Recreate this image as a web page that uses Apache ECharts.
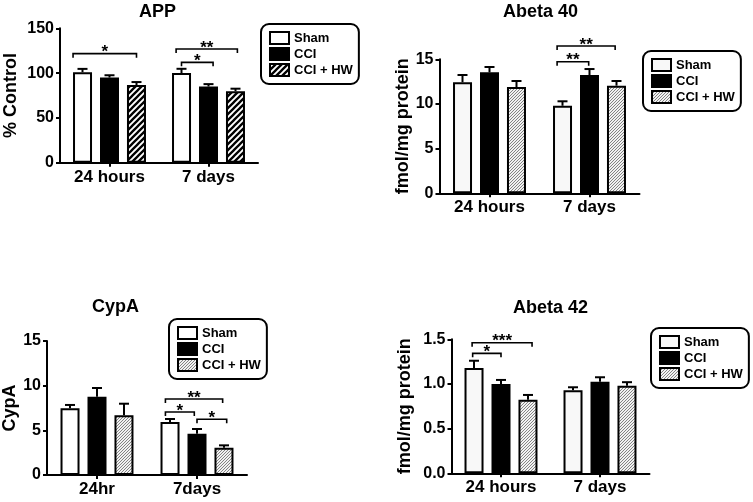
<!DOCTYPE html>
<html>
<head>
<meta charset="utf-8">
<script src="https://cdn.jsdelivr.net/npm/echarts@6/dist/echarts.min.js"></script>
<style>html,body{margin:0;padding:0;background:#fff;}#c{width:753px;height:502px;}</style>
</head>
<body>
<div id="c"></div>
<script>
// ---------- DATA ----------
const groups = ['Sham', 'CCI', 'CCI + HW'];

const appCats = ['24 hours', '7 days'];
const appSham = [101, 100];
const appCCI = [95, 85];
const appHW = [86.7, 79.7];
const appShamSem = [3.7, 4.8];
const appCCISem = [2.6, 2.7];
const appHWSem = [3.3, 2.9];
const appTicks = [0, 50, 100, 150];

const ab40Cats = ['24 hours', '7 days'];
const ab40Sham = [12.43, 9.8];
const ab40CCI = [13.54, 13.24];
const ab40HW = [11.9, 12.05];
const ab40ShamSem = [0.81, 0.5];
const ab40CCISem = [0.6, 0.67];
const ab40HWSem = [0.67, 0.52];
const ab40Ticks = [0, 5, 10, 15];

const cypCats = ['24hr', '7days'];
const cypSham = [7.47, 5.93];
const cypCCI = [8.77, 4.63];
const cypHW = [6.68, 3.06];
const cypShamSem = [0.37, 0.34];
const cypCCISem = [0.97, 0.52];
const cypHWSem = [1.3, 0.26];
const cypTicks = [0, 5, 10, 15];

const ab42Cats = ['24 hours', '7 days'];
const ab42Sham = [1.18, 0.93];
const ab42CCI = [1.0, 1.026];
const ab42HW = [0.824, 0.98];
const ab42ShamSem = [0.08, 0.033];
const ab42CCISem = [0.045, 0.049];
const ab42HWSem = [0.053, 0.04];
const ab42Ticks = ['0.0', '0.5', '1.0', '1.5'];

// significance brackets: [category, fromSlot, toSlot, height (data units), label]
const appSig = [[0, -0.35, 2, 121.7, '*'], [1, -0.2, 2.07, 126.9, '**'], [1, 0, 1.17, 112, '*']];
const ab40Sig = [[1, -0.2, 1.95, 16.49, '**'], [1, -0.2, 0.97, 14.73, '**']];
const cypSig = [[1, -0.17, 1.95, 8.51, '**'], [1, -0.17, 0.9, 7.05, '*'], [1, 1.0, 2.1, 6.24, '*']];
const ab42Sig = [[0, -0.07, 2.15, 1.462, '***'], [0, -0.05, 1.0, 1.343, '*']];

// ---------- STYLE ----------
const FONT = '"Liberation Sans", Arial, Helvetica, sans-serif';
const BAR_W = 19, STEP = 27;

function hatch(size, lw, color, bg) {
  const c = document.createElement('canvas');
  c.width = c.height = size;
  const g = c.getContext('2d');
  g.fillStyle = bg; g.fillRect(0, 0, size, size);
  g.strokeStyle = color; g.lineWidth = lw; g.beginPath();
  g.moveTo(0, size); g.lineTo(size, 0);
  g.moveTo(-size / 2, size / 2); g.lineTo(size / 2, -size / 2);
  g.moveTo(size / 2, size * 1.5); g.lineTo(size * 1.5, size / 2);
  g.stroke();
  return c;
}
const boldHatch = { image: hatch(6, 2.3, '#000', '#fff'), repeat: 'repeat' };
const fineHatch = { image: hatch(3, 0.9, '#777', '#f2f2f2'), repeat: 'repeat' };

const panels = [
  { title: 'APP', tl: 139, tt: 3, grid: { left: 60, top: 28.3, width: 198, height: 134.4 },
    cats: appCats, means: [appSham, appCCI, appHW], sems: [appShamSem, appCCISem, appHWSem],
    ticks: appTicks, yName: '% Control', nameGap: 40, sig: appSig,
    shamColor: '#fff', hw: boldHatch, legend: { left: 261, top: 24 } },
  { title: 'Abeta 40', tl: 503, tt: 3, grid: { left: 439.5, top: 59.3, width: 200, height: 134 },
    cats: ab40Cats, means: [ab40Sham, ab40CCI, ab40HW], sems: [ab40ShamSem, ab40CCISem, ab40HWSem],
    ticks: ab40Ticks, yName: 'fmol/mg protein', nameGap: 24, sig: ab40Sig,
    shamColor: '#f8f8f8', hw: fineHatch, legend: { left: 643, top: 51 } },
  { title: 'CypA', tl: 92, tt: 298, grid: { left: 47, top: 341, width: 200, height: 134 },
    cats: cypCats, means: [cypSham, cypCCI, cypHW], sems: [cypShamSem, cypCCISem, cypHWSem],
    ticks: cypTicks, yName: 'CypA', nameGap: 28, sig: cypSig,
    shamColor: '#fff', hw: fineHatch, legend: { left: 169, top: 319 } },
  { title: 'Abeta 42', tl: 513, tt: 299, grid: { left: 451.5, top: 339.3, width: 198, height: 134 },
    cats: ab42Cats, means: [ab42Sham, ab42CCI, ab42HW], sems: [ab42ShamSem, ab42CCISem, ab42HWSem],
    ticks: ab42Ticks, yName: 'fmol/mg protein', nameGap: 37, sig: ab42Sig,
    shamColor: '#f8f8f8', hw: fineHatch, legend: { left: 651, top: 328 } }
];

const ZW = '\u200b';
const option = { animation: false, backgroundColor: '#fff',
  title: [], grid: [], xAxis: [], yAxis: [], legend: [], series: [] };

panels.forEach((p, i) => {
  const tickNums = p.ticks.map(Number);
  const tmin = tickNums[0], tmax = tickNums[tickNums.length - 1];
  const tint = tickNums[1] - tickNums[0];
  option.title.push({ text: p.title, left: p.tl, top: p.tt, padding: 0,
    textStyle: { fontFamily: FONT, fontWeight: 'bold', fontSize: 18, color: '#000' } });
  option.grid.push(Object.assign({ containLabel: false }, p.grid));
  option.xAxis.push({ type: 'category', gridIndex: i, data: p.cats,
    axisLine: { lineStyle: { color: '#000', width: 2 } },
    axisTick: { show: true, alignWithLabel: true, length: 4, lineStyle: { color: '#000', width: 2 } },
    axisLabel: { fontFamily: FONT, fontWeight: 'bold', fontSize: 17, color: '#000', margin: 6 } });
  option.yAxis.push({ type: 'value', gridIndex: i, min: tmin, max: tmax, interval: tint,
    name: p.yName, nameLocation: 'middle', nameGap: p.nameGap, nameRotate: 90,
    nameTextStyle: { fontFamily: FONT, fontWeight: 'bold', fontSize: 18, color: '#000' },
    axisLine: { show: true, lineStyle: { color: '#000', width: 2 } },
    axisTick: { show: true, length: 4, lineStyle: { color: '#000', width: 2 } },
    splitLine: { show: false },
    axisLabel: { fontFamily: FONT, fontWeight: 'bold', fontSize: 16, color: '#000', margin: 6,
      formatter: v => { const k = tickNums.findIndex(t => Math.abs(t - v) < 1e-9); return k >= 0 ? String(p.ticks[k]) : ''; } } });
  const names = groups.map(g => g + ZW.repeat(i));
  const colors = [p.shamColor, '#000', p.hw];
  names.forEach((nm, s) => {
    option.series.push({ type: 'bar', name: nm, xAxisIndex: i, yAxisIndex: i,
      data: p.means[s], barWidth: BAR_W, barGap: '42%',
      itemStyle: { color: colors[s], borderColor: '#000', borderWidth: 2 } });
  });
  option.legend.push({ orient: 'vertical', left: p.legend.left, top: p.legend.top,
    data: names, selectedMode: false, icon: 'rect', itemWidth: 19, itemHeight: 12, itemGap: 2,
    padding: [7, 6, 7, 8], borderColor: '#000', borderWidth: 2, borderRadius: 8,
    formatter: n => n.replace(/\u200b/g, ''),
    textStyle: { fontFamily: FONT, fontWeight: 'bold', fontSize: 13, lineHeight: 14, color: '#000' } });
  // error bars
  const errData = [];
  p.means.forEach((arr, s) => arr.forEach((m, c) => errData.push([c, s, m, p.sems[s][c]])));
  option.series.push({ type: 'custom', xAxisIndex: i, yAxisIndex: i, data: errData, z: 1,
    renderItem: (params, api) => {
      const c = api.value(0), s = api.value(1), m = api.value(2), e = api.value(3);
      const b = api.coord([c, m]), t = api.coord([c, m + e]);
      const x = b[0] + (s - 1) * STEP;
      return { type: 'group', children: [
        { type: 'line', shape: { x1: x, y1: b[1], x2: x, y2: t[1] }, style: { stroke: '#000', lineWidth: 2 } },
        { type: 'line', shape: { x1: x - 5, y1: t[1], x2: x + 5, y2: t[1] }, style: { stroke: '#000', lineWidth: 2 } }
      ] };
    } });
  // significance brackets
  const sig = p.sig;
  option.series.push({ type: 'custom', xAxisIndex: i, yAxisIndex: i, clip: false,
    data: sig.map(r => [r[0], r[3]]),
    renderItem: (params, api) => {
      const r = sig[params.dataIndex];
      const pt = api.coord([r[0], r[3]]);
      const x1 = pt[0] + (r[1] - 1) * STEP, x2 = pt[0] + (r[2] - 1) * STEP, y = pt[1];
      return { type: 'group', children: [
        { type: 'polyline', shape: { points: [[x1, y + 4], [x1, y], [x2, y], [x2, y + 4]] },
          style: { stroke: '#000', lineWidth: 1.6, fill: null } },
        { type: 'text', x: (x1 + x2) / 2, y: y - 1,
          style: { text: r[4], fontFamily: FONT, fontWeight: 'bold', fontSize: 17, fill: '#000',
            align: 'center', verticalAlign: 'middle' } }
      ] };
    } });
});

const chart = echarts.init(document.getElementById('c'), null, { renderer: 'canvas' });
chart.setOption(option);
</script>
</body>
</html>
